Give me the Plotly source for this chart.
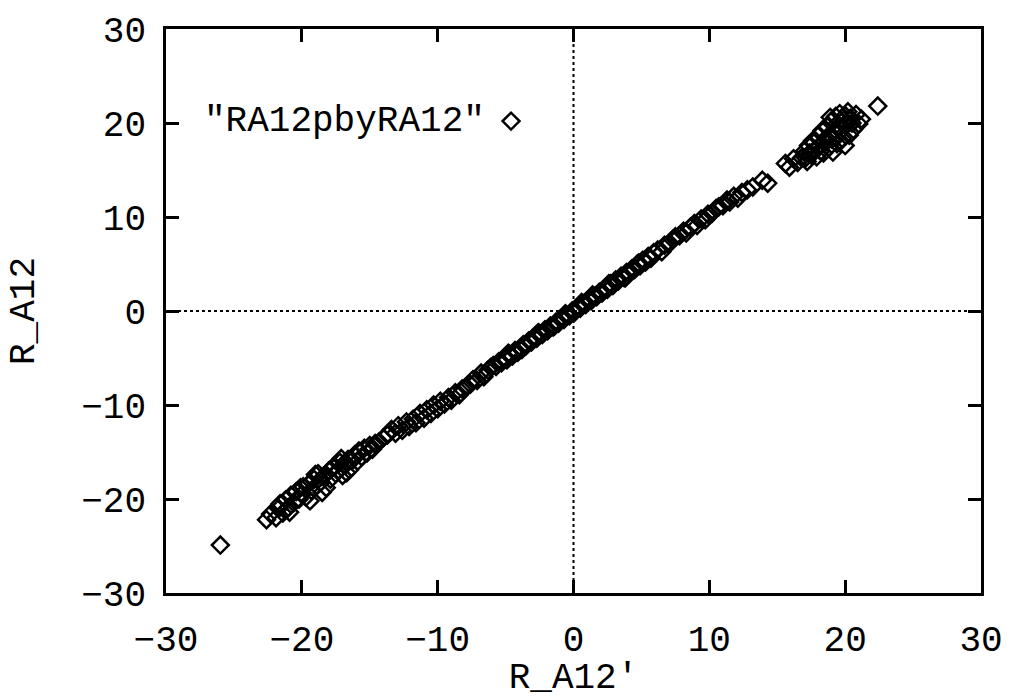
import plotly.graph_objects as go

# R_A12' (x) against R_A12 (y), grouped by stretch of the diagonal
LOW_END_X = [-26.0]
LOW_END_Y = [-24.9]

LOW_CLUSTER_X = [-22.6, -22.3, -21.9, -21.7, -21.4, -21.2, -21.0, -20.8, -20.6, -20.4,
                 -20.2, -20.0, -19.9, -19.7, -19.5, -19.3, -19.1, -18.9, -18.8, -18.6,
                 -18.4, -18.2, -18.0, -17.9, -17.7, -17.5, -17.3, -17.2, -17.0, -16.8,
                 -16.6, -16.5, -16.3, -16.1, -15.9, -15.8, -15.6, -15.4, -15.2, -15.0,
                 -14.8, -14.6, -14.3, -14.0, -13.7,
                 -21.6, -20.9, -20.1, -19.4, -18.5, -17.6, -16.7, -15.7, -19.0, -17.1]
LOW_CLUSTER_Y = [-22.2, -21.6, -22.0, -21.0, -21.5, -20.1, -20.9, -19.6, -20.4, -19.2,
                 -20.0, -19.5, -18.7, -19.8, -18.4, -19.1, -17.9, -18.6, -17.3, -18.2,
                 -17.6, -18.8, -17.0, -17.9, -16.6, -17.3, -16.9, -16.1, -17.5, -16.4,
                 -15.8, -16.9, -15.9, -15.3, -16.0, -14.9, -15.5, -14.6, -15.1, -14.3,
                 -14.7, -14.1, -13.9, -13.5, -13.2,
                 -20.5, -21.4, -18.8, -20.2, -19.3, -16.5, -17.2, -15.0, -17.4, -15.7]

LOW_BAND_X = [-13.4, -13.1, -12.9, -12.6, -12.3, -12.1, -11.8, -11.6, -11.3, -11.0,
              -10.8, -10.5, -10.3, -10.0, -9.8, -9.5, -9.2, -9.0, -8.7, -8.4,
              -8.2, -7.9, -7.6, -7.4, -7.1, -6.8, -6.6, -6.3, -6.1]
LOW_BAND_Y = [-12.6, -13.0, -12.2, -12.7, -11.8, -12.3, -11.5, -11.9, -10.9, -11.4,
              -10.5, -10.9, -10.0, -10.4, -9.6, -9.9, -9.2, -9.5, -8.7, -8.9,
              -8.3, -8.1, -7.8, -7.3, -7.4, -6.6, -7.0, -6.3, -6.0]

CORE_X = [-5.9, -5.7, -5.5, -5.3, -5.1, -4.9, -4.7, -4.5, -4.3, -4.1,
          -3.9, -3.7, -3.5, -3.3, -3.1, -2.9, -2.7, -2.5, -2.3, -2.1,
          -1.9, -1.7, -1.5, -1.3, -1.1, -0.9, -0.7, -0.5, -0.3, -0.1,
          0.1, 0.3, 0.5, 0.7, 0.9, 1.1, 1.3, 1.5, 1.7, 1.9,
          2.1, 2.3, 2.5, 2.7, 2.9, 3.1, 3.3, 3.5, 3.7, 3.9,
          4.1, 4.3, 4.5, 4.7, 4.9, 5.1, 5.3, 5.5, 5.7, 5.9,
          -4.8, -3.8, -2.6, -1.4, -0.6, 0.6, 1.4, 2.6, 3.8, 4.8]
CORE_Y = [-5.8, -5.9, -5.4, -5.5, -5.0, -5.2, -4.6, -4.8, -4.2, -4.4,
          -3.9, -3.6, -3.7, -3.2, -3.3, -2.8, -2.9, -2.4, -2.5, -2.0,
          -2.1, -1.6, -1.7, -1.2, -1.3, -0.8, -0.9, -0.4, -0.5, 0.0,
          -0.1, 0.4, 0.3, 0.8, 0.7, 1.2, 1.1, 1.6, 1.5, 2.0,
          1.9, 2.4, 2.3, 2.9, 2.7, 3.3, 3.2, 3.7, 3.6, 4.1,
          4.0, 4.5, 4.4, 5.0, 4.8, 5.4, 5.2, 5.8, 5.6, 6.2,
          -4.5, -4.1, -2.3, -1.6, -0.3, 0.9, 1.7, 2.9, 3.5, 5.1]

HIGH_BAND_X = [6.2, 6.5, 6.7, 7.0, 7.3, 7.5, 7.8, 8.1, 8.3, 8.6,
               8.9, 9.1, 9.4, 9.7, 9.9, 10.2, 10.5, 10.7, 11.0, 11.3,
               11.5, 11.8, 12.1, 12.4, 12.8, 13.2, 13.9, 14.3]
HIGH_BAND_Y = [6.5, 6.3, 7.0, 7.1, 7.6, 7.9, 8.0, 8.5, 8.3, 8.9,
               9.3, 9.1, 9.8, 9.7, 10.3, 10.4, 10.9, 11.1, 11.2, 11.8,
               11.6, 12.2, 12.0, 12.6, 12.9, 13.2, 13.9, 13.6]

HIGH_CLUSTER_X = [15.6, 15.9, 16.2, 16.5, 16.8, 17.0, 17.2, 17.3, 17.5, 17.6,
                  17.8, 17.9, 18.0, 18.1, 18.3, 18.4, 18.5, 18.7, 18.8, 18.9,
                  19.0, 19.1, 19.2, 19.3, 19.4, 19.5, 19.6, 19.8, 19.9, 20.0,
                  20.1, 20.2, 20.3, 20.4, 20.6, 20.8, 21.0, 21.2,
                  17.4, 17.7, 18.2, 18.6, 19.0, 19.4, 19.7, 20.0, 20.5, 18.9, 19.6, 17.1]
HIGH_CLUSTER_Y = [15.7, 15.3, 16.2, 15.8, 16.3, 17.0, 15.9, 17.6, 16.6, 18.1,
                  17.2, 16.4, 18.6, 17.5, 19.2, 16.8, 18.0, 19.6, 17.4, 18.7,
                  20.2, 16.9, 19.0, 20.7, 17.8, 19.5, 21.0, 18.3, 20.3, 17.6,
                  19.8, 21.2, 18.7, 20.5, 19.3, 20.9, 19.9, 20.4,
                  16.8, 17.9, 17.0, 18.4, 18.3, 19.9, 19.2, 20.8, 20.0, 20.6, 18.0, 16.3]

HIGH_END_X = [22.4]
HIGH_END_Y = [21.8]

X_TICKS = [-30, -20, -10, 0, 10, 20, 30]
Y_TICKS = [-30, -20, -10, 0, 10, 20, 30]
SERIES_NAME = '"RA12pbyRA12"'
X_TITLE = "R_A12\u2032"
Y_TITLE = "R_A12"

xs = (LOW_END_X + LOW_CLUSTER_X + LOW_BAND_X + CORE_X
      + HIGH_BAND_X + HIGH_CLUSTER_X + HIGH_END_X)
ys = (LOW_END_Y + LOW_CLUSTER_Y + LOW_BAND_Y + CORE_Y
      + HIGH_BAND_Y + HIGH_CLUSTER_Y + HIGH_END_Y)
assert len(xs) == len(ys)

FONT = "Liberation Mono, Courier New, monospace"
FONT_SIZE = 36
marker_style = dict(symbol="diamond-open", size=13, color="black",
                    line=dict(color="black", width=2.5))

fig = go.Figure()
fig.add_trace(go.Scatter(x=xs, y=ys, mode="markers", marker=marker_style,
                         name=SERIES_NAME, showlegend=False))

# gnuplot-style key: label followed by a sample symbol
KEY_X, KEY_Y = -4.6, 20.2
fig.add_trace(go.Scatter(x=[KEY_X], y=[KEY_Y], mode="markers",
                         marker=marker_style, showlegend=False, hoverinfo="skip"))
fig.add_annotation(x=KEY_X - 1.8, y=KEY_Y, xref="x", yref="y",
                   text=SERIES_NAME, showarrow=False, xanchor="right",
                   yanchor="middle", font=dict(family=FONT, size=FONT_SIZE, color="black"))

# dotted zero axes
fig.add_shape(type="line", x0=0, x1=0, y0=-30, y1=30, xref="x", yref="y",
              line=dict(color="black", width=2, dash="dot"), layer="below")
fig.add_shape(type="line", x0=-30, x1=30, y0=0, y1=0, xref="x", yref="y",
              line=dict(color="black", width=2, dash="dot"), layer="below")

axis_common = dict(
    showgrid=False, zeroline=False, showline=True, linecolor="black",
    linewidth=2.5, mirror="ticks", ticks="inside", ticklen=13, tickwidth=2.5,
    tickcolor="black", tickfont=dict(family=FONT, size=FONT_SIZE, color="black"),
)
fig.update_xaxes(range=[-30, 30], tickvals=X_TICKS, ticklabelstandoff=12,
                 title=dict(text=X_TITLE, font=dict(family=FONT, size=FONT_SIZE, color="black"),
                            standoff=0),
                 **axis_common)
fig.update_yaxes(range=[-30, 30], tickvals=Y_TICKS, ticklabelstandoff=10,
                 title=dict(text=Y_TITLE, font=dict(family=FONT, size=FONT_SIZE, color="black"),
                            standoff=36),
                 **axis_common)

fig.update_layout(
    width=1015, height=699,
    margin=dict(l=166, r=27, t=18, b=98),
    paper_bgcolor="white", plot_bgcolor="white",
    font=dict(family=FONT, color="black"),
)

fig.write_html("out.html")
